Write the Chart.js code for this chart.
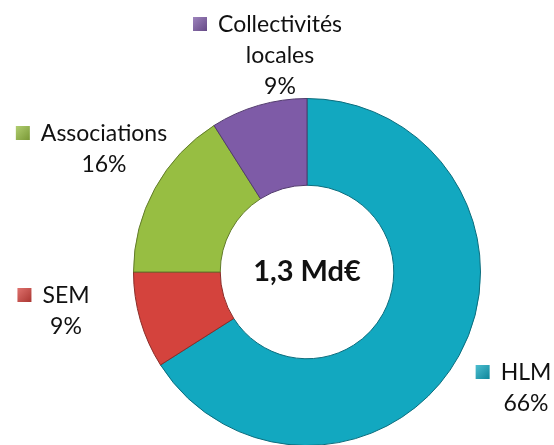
<!DOCTYPE html>
<html lang="fr">
<head>
    <meta charset="UTF-8">
    <script src="https://cdn.jsdelivr.net/npm/chart.js"></script>
    <title>Répartition 1,3 Md€</title>
    <style>
        body { margin: 0; background: #fff; overflow: hidden; }
        #wrap { width: 554px; height: 446px; }
    </style>
</head>
<body>
    <div id="wrap">
        <canvas id="donut" width="554" height="446"></canvas>
    </div>
    <script>
        // données
        var categories = ["HLM", "SEM", "Associations", "Collectivités locales"];
        var labelLines = [["HLM"], ["SEM"], ["Associations"], ["Collectivités", "locales"]];
        var valeurs = [66, 9, 16, 9];
        var couleurs = ["#12A8C0", "#D4433D", "#97BE42", "#7E5BA7"];
        var totalTexte = "1,3 Md€";

        // position des étiquettes (x centre du texte, 1re ligne de base) par rapport au centre
        var labelOffsets = [[219, 108], [-241, 31], [-203, -131], [-27, -240]];

        function shade(hex, f) {
            var n = parseInt(hex.slice(1), 16);
            var r = (n >> 16) & 255, g = (n >> 8) & 255, b = n & 255;
            function c(v) { return Math.max(0, Math.min(255, Math.round(f < 0 ? v * (1 + f) : v + (255 - v) * f))); }
            return "rgb(" + c(r) + "," + c(g) + "," + c(b) + ")";
        }

        function bevel(context) {
            var base = couleurs[context.dataIndex];
            var chart = context.chart;
            var area = chart.chartArea;
            if (!area) return base;
            var meta = chart.getDatasetMeta(0);
            var arc = meta.data[context.dataIndex];
            if (!arc || !arc.outerRadius) return base;
            var cx = (area.left + area.right) / 2, cy = (area.top + area.bottom) / 2;
            var g = chart.ctx.createRadialGradient(cx, cy, arc.innerRadius, cx, cy, arc.outerRadius);
            g.addColorStop(0, shade(base, -0.15));
            g.addColorStop(0.06, shade(base, 0.12));
            g.addColorStop(0.5, base);
            g.addColorStop(0.93, shade(base, -0.05));
            g.addColorStop(1, shade(base, -0.3));
            return g;
        }

        var etiquettes = {
            id: "etiquettes",
            afterDraw: function(chart) {
                var ctx = chart.ctx;
                var meta = chart.getDatasetMeta(0);
                var first = meta.data[0];
                var cx = first.x, cy = first.y;
                var total = valeurs.reduce(function(a, b) { return a + b; }, 0);
                ctx.save();
                ctx.fillStyle = "#111";
                ctx.textAlign = "center";
                ctx.textBaseline = "middle";
                ctx.font = "bold 29px Lato";
                ctx.fillText(totalTexte, cx, cy);

                ctx.font = "23px Lato";
                ctx.textBaseline = "alphabetic";
                meta.data.forEach(function(arc, i) {
                    var x = cx + labelOffsets[i][0];
                    var y = cy + labelOffsets[i][1];
                    var lines = labelLines[i].concat([Math.round(valeurs[i] / total * 100) + "%"]);
                    lines.forEach(function(t, k) {
                        ctx.fillStyle = "#111";
                        ctx.fillText(t, x, y + k * 31);
                    });
                    // carré de légende
                    var w = ctx.measureText(lines[0]).width;
                    var s = 14;
                    var sx = x - w / 2 - 11 - s;
                    var sy = y - 8 - s / 2;
                    var g = ctx.createLinearGradient(sx, sy, sx + s, sy + s);
                    g.addColorStop(0, shade(couleurs[i], 0.25));
                    g.addColorStop(1, shade(couleurs[i], -0.2));
                    ctx.fillStyle = g;
                    ctx.fillRect(sx, sy, s, s);
                });
                ctx.restore();
            }
        };

        new Chart(document.getElementById("donut"), {
            type: "doughnut",
            data: {
                labels: categories,
                datasets: [{
                    data: valeurs,
                    backgroundColor: bevel,
                    borderColor: couleurs.map(function(c) { return shade(c, -0.35); }),
                    borderWidth: 1
                }]
            },
            options: {
                responsive: false,
                animation: false,
                cutout: "50%",
                layout: { padding: { left: 133, right: 73, top: 98, bottom: 0 } },
                plugins: {
                    legend: { display: false },
                    tooltip: { enabled: false }
                }
            },
            plugins: [etiquettes]
        });
    </script>
</body>
</html>
